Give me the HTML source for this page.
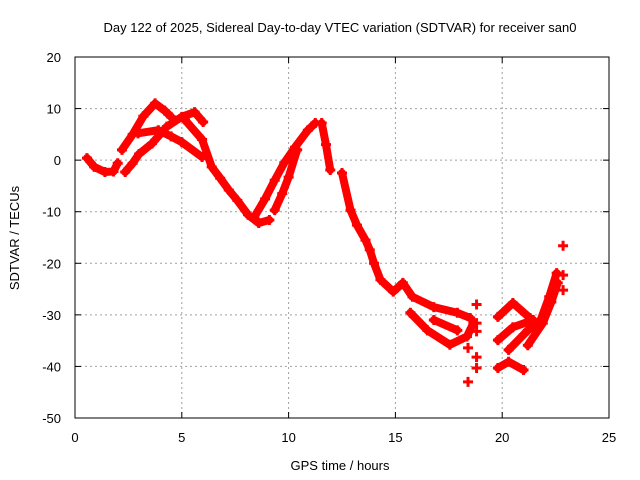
<!DOCTYPE html>
<html><head><meta charset="utf-8"><style>
body{margin:0;background:#fff;}
svg{display:block;font-family:"Liberation Sans",sans-serif;}
</style></head><body>
<svg id="chart" width="640" height="480">
<text x="340" y="32" font-size="13" text-anchor="middle">Day 122 of 2025, Sidereal Day-to-day VTEC variation (SDTVAR) for receiver san0</text>
<text x="340" y="470" font-size="13" text-anchor="middle">GPS time / hours</text>
<text x="19" y="238" font-size="13" text-anchor="middle" transform="rotate(-90 19 238)">SDTVAR / TECUs</text>
<g id="grid"></g><g id="axes"></g><g id="marks"></g>
<rect x="75" y="57" width="534" height="361" fill="none" stroke="#000" stroke-width="1"/>
</svg>
<script>
const xTicks=[0,5,10,15,20,25];
const yTicks=[20,10,0,-10,-20,-30,-40,-50];
const seriesA=[[0.56,0.4],[0.9,-1.3],[1.4,-2.3],[1.8,-2.2],[2.0,-0.6]];
const seriesB=[[2.2,2],[2.7,5],[3.2,8.5],[3.75,11],[4.2,9.6],[4.5,8.4]];
const seriesC=[[2.35,-2.3],[2.7,-0.6],[3.0,1.2],[3.6,3.2],[4.3,6.5],[5.0,8.4],[5.6,9.3],[6.0,7.4]];
const seriesD=[[2.95,5.2],[3.9,5.8],[4.5,4.6],[5.0,3.5],[5.95,0.6]];
const seriesMain=[[5.15,7.8],[5.95,4],[6.4,-1.3],[6.8,-3.5],[7.2,-5.8],[7.6,-7.8],[8.1,-10.6],[8.6,-12.2],[9.1,-11.6]];
const seriesE=[[8.4,-11],[8.9,-7.5],[9.35,-3.9],[9.8,-0.5],[10.3,2.5],[10.9,5.8],[11.25,7.2]];
const seriesF=[[9.35,-9.7],[9.7,-6.5],[10.0,-3.3],[10.4,2]];
const seriesG=[[11.55,7.2],[11.75,3],[11.95,-1.9]];
const seriesH=[[12.5,-2.5],[12.9,-9.7],[13.2,-12.6],[13.6,-15.5],[13.8,-17.4],[14.0,-20],[14.3,-23.2],[14.9,-25.5],[15.35,-23.8],[15.8,-26.5],[16.8,-28.5],[17.9,-29.6],[18.5,-30.6]];
const seriesI=[[15.7,-29.6],[16.5,-33],[17.55,-35.8],[18.35,-34.2],[18.65,-31.6]];
const seriesJ=[[16.8,-31],[17.9,-33]];
const seriesK=[[19.8,-30.4],[20.5,-27.7],[21.3,-30.6]];
const seriesL=[[19.8,-34.9],[20.5,-32.4],[21.45,-31]];
const seriesM=[[20.3,-36.8],[21.2,-33],[21.8,-31],[22.2,-26.5],[22.55,-21.9]];
const seriesN=[[21.2,-35.9],[21.9,-31.6],[22.3,-27.5],[22.6,-23.8]];
const seriesO=[[19.8,-40.3],[20.3,-39.1],[21.0,-40.7]];
const isolated=[[18.8,-28],[18.8,-31.6],[18.8,-33.2],[18.4,-36.4],[18.8,-38.2],[18.8,-40.3],[18.4,-43],[22.85,-16.6],[22.85,-22.3],[22.85,-25.2]];
const lineSeries=[seriesA,seriesB,seriesC,seriesD,seriesMain,seriesE,seriesF,seriesG,seriesH,seriesI,seriesJ,seriesK,seriesL,seriesM,seriesN,seriesO];

const NS="http://www.w3.org/2000/svg";
const X0=75,X1=609,Y0=57,Y1=418;
function xs(h){return X0+(h-0)/(25-0)*(X1-X0);}
function ys(v){return Y0+(20-v)/(20-(-50))*(Y1-Y0);}
function mk(tag,attrs,parent){const e=document.createElementNS(NS,tag);for(const k in attrs)e.setAttribute(k,attrs[k]);parent.appendChild(e);return e;}
const grid=document.getElementById('grid'),axes=document.getElementById('axes'),marks=document.getElementById('marks');
xTicks.forEach(t=>{
  const x=xs(t);
  if(t>0&&t<25){const g=mk('line',{x1:x,x2:x,y1:Y0,y2:Y1,stroke:'#a0a0a0','stroke-dasharray':'2,3'},grid);
  
  }
  mk('line',{x1:x,x2:x,y1:Y1,y2:Y1-6,stroke:'#000'},axes);
  mk('line',{x1:x,x2:x,y1:Y0,y2:Y0+6,stroke:'#000'},axes);
  const l=mk('text',{x:x,y:442,'font-size':13,'text-anchor':'middle'},axes);l.textContent=t;
  
  
});
yTicks.forEach(t=>{
  const y=ys(t);
  if(t<20&&t>-50){const g=mk('line',{x1:X0,x2:X1,y1:y,y2:y,stroke:'#a0a0a0','stroke-dasharray':'2,3'},grid);
  
  }
  mk('line',{x1:X0,x2:X0+6,y1:y,y2:y,stroke:'#000'},axes);
  mk('line',{x1:X1,x2:X1-6,y1:y,y2:y,stroke:'#000'},axes);
  const l=mk('text',{x:61,y:y+5,'font-size':13,'text-anchor':'end'},axes);l.textContent=t;
  
  
});
function plus(h,v){
  const x=xs(h),y=ys(v);
  const p=mk('path',{d:`M${x-5},${y}H${x+5}M${x},${y-5}V${y+5}`,stroke:'#ff0000','stroke-width':3},marks);
  
  
}
lineSeries.forEach(s=>{
  const pl=mk('polyline',{points:s.map(p=>xs(p[0])+','+ys(p[1])).join(' '),fill:'none',stroke:'#ff0000','stroke-width':8,'stroke-linejoin':'round','stroke-linecap':'round'},marks);
  
  
  s.forEach(p=>plus(p[0],p[1]));
});
isolated.forEach(p=>plus(p[0],p[1]));
</script>
</body></html>
